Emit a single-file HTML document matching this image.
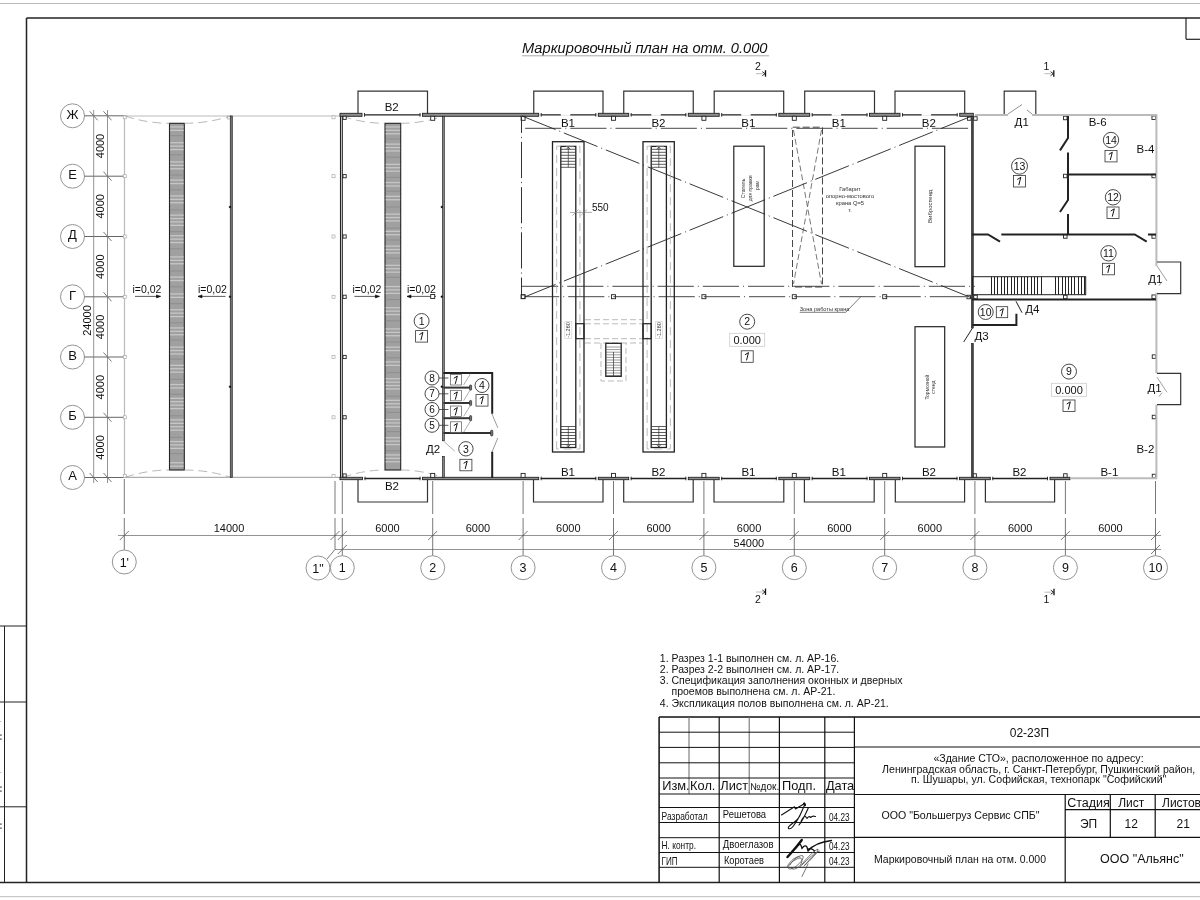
<!DOCTYPE html>
<html><head><meta charset="utf-8"><style>
html,body{margin:0;padding:0;background:#fff;overflow:hidden;}
svg{display:block;font-family:"Liberation Sans",sans-serif;will-change:transform;}
</style></head><body>
<svg width="1200" height="900" viewBox="0 0 1200 900">
<rect width="1200" height="900" fill="#fff"/>
<line x1="0" y1="3.5" x2="1200" y2="3.5" stroke="#bbb" stroke-width="1" />
<line x1="26.5" y1="18" x2="1200" y2="18" stroke="#222" stroke-width="1.5" />
<line x1="26.5" y1="18" x2="26.5" y2="882.5" stroke="#222" stroke-width="1.5" />
<line x1="0" y1="882.5" x2="1200" y2="882.5" stroke="#222" stroke-width="1.5" />
<line x1="0" y1="896.7" x2="1200" y2="896.7" stroke="#bbb" stroke-width="1" />
<line x1="1186" y1="18" x2="1186" y2="39.3" stroke="#222" stroke-width="1.2" />
<line x1="1186" y1="39.3" x2="1200" y2="39.3" stroke="#222" stroke-width="1.2" />
<line x1="4.5" y1="626" x2="4.5" y2="882.5" stroke="#222" stroke-width="1" />
<line x1="0" y1="626" x2="26.5" y2="626" stroke="#222" stroke-width="1" />
<line x1="0" y1="702" x2="26.5" y2="702" stroke="#222" stroke-width="1" />
<line x1="0" y1="806.8" x2="26.5" y2="806.8" stroke="#222" stroke-width="1" />
<rect x="0" y="734.5" width="1.8" height="1.2" fill="#555"/>
<rect x="0" y="738.5" width="1.8" height="1.2" fill="#555"/>
<rect x="0" y="786.5" width="1.8" height="1.2" fill="#555"/>
<rect x="0" y="790.5" width="1.8" height="1.2" fill="#555"/>
<rect x="0" y="823.5" width="1.8" height="1.2" fill="#555"/>
<rect x="0" y="827.5" width="1.8" height="1.2" fill="#555"/>
<rect x="0" y="721" width="1.2" height="1" fill="#bbb"/>
<rect x="0" y="772" width="1.2" height="1" fill="#bbb"/>
<text x="522" y="53" font-size="14.5" text-anchor="start" fill="#111" font-style="italic" textLength="245.5" lengthAdjust="spacingAndGlyphs">Маркировочный план на отм. 0.000</text>
<line x1="522" y1="55.8" x2="769" y2="55.8" stroke="#aaa" stroke-width="1" />
<text x="758" y="69.8" font-size="10.5" text-anchor="middle" fill="#111" >2</text>
<line x1="756" y1="73.7" x2="762.7" y2="73.7" stroke="#bbb" stroke-width="1" />
<path d="M762.3,71.7 L765,73.7 L762.3,75.7" stroke="#111" stroke-width="0.9" fill="none" />
<line x1="765.5" y1="70.2" x2="765.5" y2="76.7" stroke="#111" stroke-width="1.3" />
<text x="1046.3" y="69.8" font-size="10.5" text-anchor="middle" fill="#111" >1</text>
<line x1="1044.3" y1="73.7" x2="1051.0" y2="73.7" stroke="#bbb" stroke-width="1" />
<path d="M1050.6,71.7 L1053.3,73.7 L1050.6,75.7" stroke="#111" stroke-width="0.9" fill="none" />
<line x1="1053.8" y1="70.2" x2="1053.8" y2="76.7" stroke="#111" stroke-width="1.3" />
<text x="758" y="602.8" font-size="10.5" text-anchor="middle" fill="#111" >2</text>
<line x1="756" y1="592" x2="762.7" y2="592" stroke="#bbb" stroke-width="1" />
<path d="M762.3,590 L765,592 L762.3,594" stroke="#111" stroke-width="0.9" fill="none" />
<line x1="765.5" y1="588.5" x2="765.5" y2="595" stroke="#111" stroke-width="1.3" />
<text x="1046.5" y="602.8" font-size="10.5" text-anchor="middle" fill="#111" >1</text>
<line x1="1044.5" y1="592.2" x2="1051.2" y2="592.2" stroke="#bbb" stroke-width="1" />
<path d="M1050.8,590.2 L1053.5,592.2 L1050.8,594.2" stroke="#111" stroke-width="0.9" fill="none" />
<line x1="1054.0" y1="588.7" x2="1054.0" y2="595.2" stroke="#111" stroke-width="1.3" />
<circle cx="72.5" cy="115.8" r="12" stroke="#888" stroke-width="0.9" fill="none"/>
<text x="72.5" y="118.7" font-size="13" text-anchor="middle" fill="#111" >Ж</text>
<line x1="84.5" y1="115.8" x2="125" y2="115.8" stroke="#555" stroke-width="0.9" />
<line x1="103.5" y1="111.3" x2="111.5" y2="120.3" stroke="#555" stroke-width="0.8" />
<circle cx="72.5" cy="176.2" r="12" stroke="#888" stroke-width="0.9" fill="none"/>
<text x="72.5" y="179.1" font-size="13" text-anchor="middle" fill="#111" >Е</text>
<line x1="84.5" y1="176.2" x2="125" y2="176.2" stroke="#555" stroke-width="0.9" />
<line x1="103.5" y1="171.7" x2="111.5" y2="180.7" stroke="#555" stroke-width="0.8" />
<circle cx="72.5" cy="236.5" r="12" stroke="#888" stroke-width="0.9" fill="none"/>
<text x="72.5" y="239.4" font-size="13" text-anchor="middle" fill="#111" >Д</text>
<line x1="84.5" y1="236.5" x2="125" y2="236.5" stroke="#555" stroke-width="0.9" />
<line x1="103.5" y1="232.0" x2="111.5" y2="241.0" stroke="#555" stroke-width="0.8" />
<circle cx="72.5" cy="296.8" r="12" stroke="#888" stroke-width="0.9" fill="none"/>
<text x="72.5" y="299.7" font-size="13" text-anchor="middle" fill="#111" >Г</text>
<line x1="84.5" y1="296.8" x2="125" y2="296.8" stroke="#555" stroke-width="0.9" />
<line x1="103.5" y1="292.3" x2="111.5" y2="301.3" stroke="#555" stroke-width="0.8" />
<circle cx="72.5" cy="357.0" r="12" stroke="#888" stroke-width="0.9" fill="none"/>
<text x="72.5" y="359.9" font-size="13" text-anchor="middle" fill="#111" >В</text>
<line x1="84.5" y1="357.0" x2="125" y2="357.0" stroke="#555" stroke-width="0.9" />
<line x1="103.5" y1="352.5" x2="111.5" y2="361.5" stroke="#555" stroke-width="0.8" />
<circle cx="72.5" cy="417.3" r="12" stroke="#888" stroke-width="0.9" fill="none"/>
<text x="72.5" y="420.2" font-size="13" text-anchor="middle" fill="#111" >Б</text>
<line x1="84.5" y1="417.3" x2="125" y2="417.3" stroke="#555" stroke-width="0.9" />
<line x1="103.5" y1="412.8" x2="111.5" y2="421.8" stroke="#555" stroke-width="0.8" />
<circle cx="72.5" cy="477.5" r="12" stroke="#888" stroke-width="0.9" fill="none"/>
<text x="72.5" y="480.4" font-size="13" text-anchor="middle" fill="#111" >А</text>
<line x1="84.5" y1="477.5" x2="125" y2="477.5" stroke="#555" stroke-width="0.9" />
<line x1="103.5" y1="473.0" x2="111.5" y2="482.0" stroke="#555" stroke-width="0.8" />
<line x1="89.7" y1="111.3" x2="97.7" y2="120.3" stroke="#555" stroke-width="0.8" />
<line x1="89.7" y1="473.0" x2="97.7" y2="482.0" stroke="#555" stroke-width="0.8" />
<line x1="93.7" y1="110" x2="93.7" y2="483" stroke="#777" stroke-width="0.8" />
<line x1="107.5" y1="110" x2="107.5" y2="483" stroke="#777" stroke-width="0.8" />
<text x="0" y="0" font-size="11" text-anchor="middle" fill="#111" transform="translate(104.3,146.0) rotate(-90)">4000</text>
<text x="0" y="0" font-size="11" text-anchor="middle" fill="#111" transform="translate(104.3,206.35) rotate(-90)">4000</text>
<text x="0" y="0" font-size="11" text-anchor="middle" fill="#111" transform="translate(104.3,266.65) rotate(-90)">4000</text>
<text x="0" y="0" font-size="11" text-anchor="middle" fill="#111" transform="translate(104.3,326.9) rotate(-90)">4000</text>
<text x="0" y="0" font-size="11" text-anchor="middle" fill="#111" transform="translate(104.3,387.15) rotate(-90)">4000</text>
<text x="0" y="0" font-size="11" text-anchor="middle" fill="#111" transform="translate(104.3,447.4) rotate(-90)">4000</text>
<text x="0" y="0" font-size="11" text-anchor="middle" fill="#111" transform="translate(90.5,320.5) rotate(-90)">24000</text>
<line x1="118" y1="535.5" x2="1161" y2="535.5" stroke="#777" stroke-width="0.8" />
<line x1="335" y1="549.5" x2="1161" y2="549.5" stroke="#777" stroke-width="0.8" />
<line x1="119.8" y1="540" x2="128.8" y2="531" stroke="#555" stroke-width="0.8" />
<line x1="330.5" y1="540" x2="339.5" y2="531" stroke="#555" stroke-width="0.8" />
<line x1="337.8" y1="540" x2="346.8" y2="531" stroke="#555" stroke-width="0.8" />
<line x1="428.2" y1="540" x2="437.2" y2="531" stroke="#555" stroke-width="0.8" />
<line x1="518.6" y1="540" x2="527.6" y2="531" stroke="#555" stroke-width="0.8" />
<line x1="609.0" y1="540" x2="618.0" y2="531" stroke="#555" stroke-width="0.8" />
<line x1="699.4" y1="540" x2="708.4" y2="531" stroke="#555" stroke-width="0.8" />
<line x1="789.8" y1="540" x2="798.8" y2="531" stroke="#555" stroke-width="0.8" />
<line x1="880.2" y1="540" x2="889.2" y2="531" stroke="#555" stroke-width="0.8" />
<line x1="970.4" y1="540" x2="979.4" y2="531" stroke="#555" stroke-width="0.8" />
<line x1="1060.9" y1="540" x2="1069.9" y2="531" stroke="#555" stroke-width="0.8" />
<line x1="1151.0" y1="540" x2="1160.0" y2="531" stroke="#555" stroke-width="0.8" />
<line x1="337.8" y1="554" x2="346.8" y2="545" stroke="#555" stroke-width="0.8" />
<line x1="1151.0" y1="554" x2="1160.0" y2="545" stroke="#555" stroke-width="0.8" />
<text x="229" y="532" font-size="11" text-anchor="middle" fill="#111" >14000</text>
<text x="387.5" y="532" font-size="11" text-anchor="middle" fill="#111" >6000</text>
<text x="477.9" y="532" font-size="11" text-anchor="middle" fill="#111" >6000</text>
<text x="568.3" y="532" font-size="11" text-anchor="middle" fill="#111" >6000</text>
<text x="658.7" y="532" font-size="11" text-anchor="middle" fill="#111" >6000</text>
<text x="749.0999999999999" y="532" font-size="11" text-anchor="middle" fill="#111" >6000</text>
<text x="839.5" y="532" font-size="11" text-anchor="middle" fill="#111" >6000</text>
<text x="929.8" y="532" font-size="11" text-anchor="middle" fill="#111" >6000</text>
<text x="1020.1500000000001" y="532" font-size="11" text-anchor="middle" fill="#111" >6000</text>
<text x="1110.45" y="532" font-size="11" text-anchor="middle" fill="#111" >6000</text>
<text x="748.9" y="546.5" font-size="11" text-anchor="middle" fill="#111" >54000</text>
<path d="M342.3,481 V514 M342.3,518 V555.5" stroke="#555" stroke-width="0.8" fill="none" />
<circle cx="342.3" cy="567.7" r="12" stroke="#888" stroke-width="0.9" fill="none"/>
<path d="M432.7,481 V514 M432.7,518 V555.5" stroke="#555" stroke-width="0.8" fill="none" />
<circle cx="432.7" cy="567.7" r="12" stroke="#888" stroke-width="0.9" fill="none"/>
<path d="M523.1,481 V514 M523.1,518 V555.5" stroke="#555" stroke-width="0.8" fill="none" />
<circle cx="523.1" cy="567.7" r="12" stroke="#888" stroke-width="0.9" fill="none"/>
<path d="M613.5,481 V514 M613.5,518 V555.5" stroke="#555" stroke-width="0.8" fill="none" />
<circle cx="613.5" cy="567.7" r="12" stroke="#888" stroke-width="0.9" fill="none"/>
<path d="M703.9,481 V514 M703.9,518 V555.5" stroke="#555" stroke-width="0.8" fill="none" />
<circle cx="703.9" cy="567.7" r="12" stroke="#888" stroke-width="0.9" fill="none"/>
<path d="M794.3,481 V514 M794.3,518 V555.5" stroke="#555" stroke-width="0.8" fill="none" />
<circle cx="794.3" cy="567.7" r="12" stroke="#888" stroke-width="0.9" fill="none"/>
<path d="M884.7,481 V514 M884.7,518 V555.5" stroke="#555" stroke-width="0.8" fill="none" />
<circle cx="884.7" cy="567.7" r="12" stroke="#888" stroke-width="0.9" fill="none"/>
<path d="M974.9,481 V514 M974.9,518 V555.5" stroke="#555" stroke-width="0.8" fill="none" />
<circle cx="974.9" cy="567.7" r="12" stroke="#888" stroke-width="0.9" fill="none"/>
<path d="M1065.4,481 V514 M1065.4,518 V555.5" stroke="#555" stroke-width="0.8" fill="none" />
<circle cx="1065.4" cy="567.7" r="12" stroke="#888" stroke-width="0.9" fill="none"/>
<path d="M1155.5,481 V514 M1155.5,518 V555.5" stroke="#555" stroke-width="0.8" fill="none" />
<circle cx="1155.5" cy="567.7" r="12" stroke="#888" stroke-width="0.9" fill="none"/>
<text x="342.3" y="572.2" font-size="12.5" text-anchor="middle" fill="#111" >1</text>
<text x="432.7" y="572.2" font-size="12.5" text-anchor="middle" fill="#111" >2</text>
<text x="523.1" y="572.2" font-size="12.5" text-anchor="middle" fill="#111" >3</text>
<text x="613.5" y="572.2" font-size="12.5" text-anchor="middle" fill="#111" >4</text>
<text x="703.9" y="572.2" font-size="12.5" text-anchor="middle" fill="#111" >5</text>
<text x="794.3" y="572.2" font-size="12.5" text-anchor="middle" fill="#111" >6</text>
<text x="884.7" y="572.2" font-size="12.5" text-anchor="middle" fill="#111" >7</text>
<text x="974.9" y="572.2" font-size="12.5" text-anchor="middle" fill="#111" >8</text>
<text x="1065.4" y="572.2" font-size="12.5" text-anchor="middle" fill="#111" >9</text>
<text x="1155.5" y="572.2" font-size="12.5" text-anchor="middle" fill="#111" >10</text>
<path d="M124.3,479 V514 M124.3,518 V550" stroke="#555" stroke-width="0.8" fill="none" />
<circle cx="124.3" cy="562" r="12" stroke="#888" stroke-width="0.9" fill="none"/>
<text x="124.3" y="566.5" font-size="12.5" text-anchor="middle" fill="#111" >1'</text>
<path d="M335,481 V514 M335,518 V549.5 L327,559" stroke="#555" stroke-width="0.8" fill="none" />
<circle cx="318" cy="568" r="12" stroke="#888" stroke-width="0.9" fill="none"/>
<text x="318" y="572.5" font-size="12.5" text-anchor="middle" fill="#111" >1"</text>
<line x1="125" y1="116" x2="340" y2="116" stroke="#bbb" stroke-width="1.2" />
<line x1="125" y1="477.3" x2="340" y2="477.3" stroke="#999" stroke-width="1" />
<line x1="124.5" y1="116" x2="124.5" y2="477.3" stroke="#bbb" stroke-width="1.2" />
<rect x="123.3" y="115.8" width="3" height="3" stroke="#aaa" stroke-width="0.7" fill="#fff" />
<rect x="332" y="115.8" width="3" height="3" stroke="#aaa" stroke-width="0.7" fill="#fff" />
<rect x="123.3" y="174.7" width="3" height="3" stroke="#aaa" stroke-width="0.7" fill="#fff" />
<rect x="332" y="174.7" width="3" height="3" stroke="#aaa" stroke-width="0.7" fill="#fff" />
<rect x="123.3" y="235.0" width="3" height="3" stroke="#aaa" stroke-width="0.7" fill="#fff" />
<rect x="332" y="235.0" width="3" height="3" stroke="#aaa" stroke-width="0.7" fill="#fff" />
<rect x="123.3" y="295.3" width="3" height="3" stroke="#aaa" stroke-width="0.7" fill="#fff" />
<rect x="332" y="295.3" width="3" height="3" stroke="#aaa" stroke-width="0.7" fill="#fff" />
<rect x="123.3" y="355.5" width="3" height="3" stroke="#aaa" stroke-width="0.7" fill="#fff" />
<rect x="332" y="355.5" width="3" height="3" stroke="#aaa" stroke-width="0.7" fill="#fff" />
<rect x="123.3" y="415.8" width="3" height="3" stroke="#aaa" stroke-width="0.7" fill="#fff" />
<rect x="332" y="415.8" width="3" height="3" stroke="#aaa" stroke-width="0.7" fill="#fff" />
<rect x="123.3" y="474.5" width="3" height="3" stroke="#aaa" stroke-width="0.7" fill="#fff" />
<rect x="332" y="474.5" width="3" height="3" stroke="#aaa" stroke-width="0.7" fill="#fff" />
<rect x="227.3" y="116" width="3" height="3" stroke="#aaa" stroke-width="0.7" fill="#fff" />
<rect x="169.5" y="123.3" width="14.800000000000011" height="346.7" stroke="#222" stroke-width="1.1" fill="#a0a0a0" />
<rect x="170.1" y="126.3" width="13.600000000000012" height="1.3" fill="#c6c6c6"/>
<rect x="170.1" y="129.7" width="13.600000000000012" height="1.3" fill="#c6c6c6"/>
<rect x="170.1" y="135.1" width="13.600000000000012" height="1" fill="#8e8e8e"/>
<rect x="170.1" y="142.1" width="13.600000000000012" height="1.3" fill="#c6c6c6"/>
<rect x="170.1" y="145.5" width="13.600000000000012" height="1.3" fill="#c6c6c6"/>
<rect x="170.1" y="148.9" width="13.600000000000012" height="1.3" fill="#c6c6c6"/>
<rect x="170.1" y="154.3" width="13.600000000000012" height="1" fill="#8e8e8e"/>
<rect x="170.1" y="161.3" width="13.600000000000012" height="1.3" fill="#c6c6c6"/>
<rect x="170.1" y="164.7" width="13.600000000000012" height="1.3" fill="#c6c6c6"/>
<rect x="170.1" y="168.1" width="13.600000000000012" height="1.3" fill="#c6c6c6"/>
<rect x="170.1" y="174.5" width="13.600000000000012" height="1" fill="#8e8e8e"/>
<rect x="170.1" y="179.5" width="13.600000000000012" height="1.3" fill="#c6c6c6"/>
<rect x="170.1" y="182.9" width="13.600000000000012" height="1.3" fill="#c6c6c6"/>
<rect x="170.1" y="189.3" width="13.600000000000012" height="1" fill="#8e8e8e"/>
<rect x="170.1" y="195.3" width="13.600000000000012" height="1.3" fill="#c6c6c6"/>
<rect x="170.1" y="198.7" width="13.600000000000012" height="1.3" fill="#c6c6c6"/>
<rect x="170.1" y="202.1" width="13.600000000000012" height="1.3" fill="#c6c6c6"/>
<rect x="170.1" y="209.5" width="13.600000000000012" height="1" fill="#8e8e8e"/>
<rect x="170.1" y="214.5" width="13.600000000000012" height="1.3" fill="#c6c6c6"/>
<rect x="170.1" y="217.9" width="13.600000000000012" height="1.3" fill="#c6c6c6"/>
<rect x="170.1" y="221.3" width="13.600000000000012" height="1.3" fill="#c6c6c6"/>
<rect x="170.1" y="224.7" width="13.600000000000012" height="1.3" fill="#c6c6c6"/>
<rect x="170.1" y="231.1" width="13.600000000000012" height="1" fill="#8e8e8e"/>
<rect x="170.1" y="235.1" width="13.600000000000012" height="1.3" fill="#c6c6c6"/>
<rect x="170.1" y="238.5" width="13.600000000000012" height="1.3" fill="#c6c6c6"/>
<rect x="170.1" y="241.9" width="13.600000000000012" height="1.3" fill="#c6c6c6"/>
<rect x="170.1" y="248.3" width="13.600000000000012" height="1" fill="#8e8e8e"/>
<rect x="170.1" y="256.3" width="13.600000000000012" height="1.3" fill="#c6c6c6"/>
<rect x="170.1" y="259.7" width="13.600000000000012" height="1.3" fill="#c6c6c6"/>
<rect x="170.1" y="263.1" width="13.600000000000012" height="1.3" fill="#c6c6c6"/>
<rect x="170.1" y="270.5" width="13.600000000000012" height="1" fill="#8e8e8e"/>
<rect x="170.1" y="276.5" width="13.600000000000012" height="1.3" fill="#c6c6c6"/>
<rect x="170.1" y="279.9" width="13.600000000000012" height="1.3" fill="#c6c6c6"/>
<rect x="170.1" y="286.3" width="13.600000000000012" height="1" fill="#8e8e8e"/>
<rect x="170.1" y="293.3" width="13.600000000000012" height="1.3" fill="#c6c6c6"/>
<rect x="170.1" y="296.7" width="13.600000000000012" height="1.3" fill="#c6c6c6"/>
<rect x="170.1" y="303.1" width="13.600000000000012" height="1" fill="#8e8e8e"/>
<rect x="170.1" y="309.1" width="13.600000000000012" height="1.3" fill="#c6c6c6"/>
<rect x="170.1" y="312.5" width="13.600000000000012" height="1.3" fill="#c6c6c6"/>
<rect x="170.1" y="315.9" width="13.600000000000012" height="1.3" fill="#c6c6c6"/>
<rect x="170.1" y="322.3" width="13.600000000000012" height="1" fill="#8e8e8e"/>
<rect x="170.1" y="327.3" width="13.600000000000012" height="1.3" fill="#c6c6c6"/>
<rect x="170.1" y="330.7" width="13.600000000000012" height="1.3" fill="#c6c6c6"/>
<rect x="170.1" y="334.1" width="13.600000000000012" height="1.3" fill="#c6c6c6"/>
<rect x="170.1" y="339.5" width="13.600000000000012" height="1" fill="#8e8e8e"/>
<rect x="170.1" y="346.5" width="13.600000000000012" height="1.3" fill="#c6c6c6"/>
<rect x="170.1" y="349.9" width="13.600000000000012" height="1.3" fill="#c6c6c6"/>
<rect x="170.1" y="353.3" width="13.600000000000012" height="1.3" fill="#c6c6c6"/>
<rect x="170.1" y="358.7" width="13.600000000000012" height="1" fill="#8e8e8e"/>
<rect x="170.1" y="364.7" width="13.600000000000012" height="1.3" fill="#c6c6c6"/>
<rect x="170.1" y="368.1" width="13.600000000000012" height="1.3" fill="#c6c6c6"/>
<rect x="170.1" y="371.5" width="13.600000000000012" height="1.3" fill="#c6c6c6"/>
<rect x="170.1" y="378.9" width="13.600000000000012" height="1" fill="#8e8e8e"/>
<rect x="170.1" y="383.9" width="13.600000000000012" height="1.3" fill="#c6c6c6"/>
<rect x="170.1" y="387.3" width="13.600000000000012" height="1.3" fill="#c6c6c6"/>
<rect x="170.1" y="393.7" width="13.600000000000012" height="1" fill="#8e8e8e"/>
<rect x="170.1" y="397.7" width="13.600000000000012" height="1.3" fill="#c6c6c6"/>
<rect x="170.1" y="401.1" width="13.600000000000012" height="1.3" fill="#c6c6c6"/>
<rect x="170.1" y="404.5" width="13.600000000000012" height="1.3" fill="#c6c6c6"/>
<rect x="170.1" y="407.9" width="13.600000000000012" height="1.3" fill="#c6c6c6"/>
<rect x="170.1" y="415.3" width="13.600000000000012" height="1" fill="#8e8e8e"/>
<rect x="170.1" y="419.3" width="13.600000000000012" height="1.3" fill="#c6c6c6"/>
<rect x="170.1" y="422.7" width="13.600000000000012" height="1.3" fill="#c6c6c6"/>
<rect x="170.1" y="426.1" width="13.600000000000012" height="1.3" fill="#c6c6c6"/>
<rect x="170.1" y="429.5" width="13.600000000000012" height="1.3" fill="#c6c6c6"/>
<rect x="170.1" y="436.9" width="13.600000000000012" height="1" fill="#8e8e8e"/>
<rect x="170.1" y="440.9" width="13.600000000000012" height="1.3" fill="#c6c6c6"/>
<rect x="170.1" y="444.3" width="13.600000000000012" height="1.3" fill="#c6c6c6"/>
<rect x="170.1" y="447.7" width="13.600000000000012" height="1.3" fill="#c6c6c6"/>
<rect x="170.1" y="453.1" width="13.600000000000012" height="1" fill="#8e8e8e"/>
<rect x="170.1" y="462.1" width="13.600000000000012" height="1.3" fill="#c6c6c6"/>
<rect x="170.1" y="465.5" width="13.600000000000012" height="1.3" fill="#c6c6c6"/>
<rect x="385" y="123.3" width="15.699999999999989" height="346.7" stroke="#222" stroke-width="1.1" fill="#a0a0a0" />
<rect x="385.6" y="126.3" width="14.49999999999999" height="1.3" fill="#c6c6c6"/>
<rect x="385.6" y="129.7" width="14.49999999999999" height="1.3" fill="#c6c6c6"/>
<rect x="385.6" y="133.1" width="14.49999999999999" height="1.3" fill="#c6c6c6"/>
<rect x="385.6" y="138.5" width="14.49999999999999" height="1" fill="#8e8e8e"/>
<rect x="385.6" y="143.5" width="14.49999999999999" height="1.3" fill="#c6c6c6"/>
<rect x="385.6" y="146.9" width="14.49999999999999" height="1.3" fill="#c6c6c6"/>
<rect x="385.6" y="150.3" width="14.49999999999999" height="1.3" fill="#c6c6c6"/>
<rect x="385.6" y="156.7" width="14.49999999999999" height="1" fill="#8e8e8e"/>
<rect x="385.6" y="163.7" width="14.49999999999999" height="1.3" fill="#c6c6c6"/>
<rect x="385.6" y="167.1" width="14.49999999999999" height="1.3" fill="#c6c6c6"/>
<rect x="385.6" y="170.5" width="14.49999999999999" height="1.3" fill="#c6c6c6"/>
<rect x="385.6" y="176.9" width="14.49999999999999" height="1" fill="#8e8e8e"/>
<rect x="385.6" y="181.9" width="14.49999999999999" height="1.3" fill="#c6c6c6"/>
<rect x="385.6" y="185.3" width="14.49999999999999" height="1.3" fill="#c6c6c6"/>
<rect x="385.6" y="190.7" width="14.49999999999999" height="1" fill="#8e8e8e"/>
<rect x="385.6" y="195.7" width="14.49999999999999" height="1.3" fill="#c6c6c6"/>
<rect x="385.6" y="199.1" width="14.49999999999999" height="1.3" fill="#c6c6c6"/>
<rect x="385.6" y="206.5" width="14.49999999999999" height="1" fill="#8e8e8e"/>
<rect x="385.6" y="213.5" width="14.49999999999999" height="1.3" fill="#c6c6c6"/>
<rect x="385.6" y="216.9" width="14.49999999999999" height="1.3" fill="#c6c6c6"/>
<rect x="385.6" y="220.3" width="14.49999999999999" height="1.3" fill="#c6c6c6"/>
<rect x="385.6" y="227.7" width="14.49999999999999" height="1" fill="#8e8e8e"/>
<rect x="385.6" y="230.7" width="14.49999999999999" height="1.3" fill="#c6c6c6"/>
<rect x="385.6" y="234.1" width="14.49999999999999" height="1.3" fill="#c6c6c6"/>
<rect x="385.6" y="239.5" width="14.49999999999999" height="1" fill="#8e8e8e"/>
<rect x="385.6" y="245.5" width="14.49999999999999" height="1.3" fill="#c6c6c6"/>
<rect x="385.6" y="248.9" width="14.49999999999999" height="1.3" fill="#c6c6c6"/>
<rect x="385.6" y="252.3" width="14.49999999999999" height="1.3" fill="#c6c6c6"/>
<rect x="385.6" y="257.7" width="14.49999999999999" height="1" fill="#8e8e8e"/>
<rect x="385.6" y="264.7" width="14.49999999999999" height="1.3" fill="#c6c6c6"/>
<rect x="385.6" y="268.1" width="14.49999999999999" height="1.3" fill="#c6c6c6"/>
<rect x="385.6" y="271.5" width="14.49999999999999" height="1.3" fill="#c6c6c6"/>
<rect x="385.6" y="276.9" width="14.49999999999999" height="1" fill="#8e8e8e"/>
<rect x="385.6" y="285.9" width="14.49999999999999" height="1.3" fill="#c6c6c6"/>
<rect x="385.6" y="289.3" width="14.49999999999999" height="1.3" fill="#c6c6c6"/>
<rect x="385.6" y="292.7" width="14.49999999999999" height="1.3" fill="#c6c6c6"/>
<rect x="385.6" y="299.1" width="14.49999999999999" height="1" fill="#8e8e8e"/>
<rect x="385.6" y="307.1" width="14.49999999999999" height="1.3" fill="#c6c6c6"/>
<rect x="385.6" y="310.5" width="14.49999999999999" height="1.3" fill="#c6c6c6"/>
<rect x="385.6" y="313.9" width="14.49999999999999" height="1.3" fill="#c6c6c6"/>
<rect x="385.6" y="320.3" width="14.49999999999999" height="1" fill="#8e8e8e"/>
<rect x="385.6" y="328.3" width="14.49999999999999" height="1.3" fill="#c6c6c6"/>
<rect x="385.6" y="331.7" width="14.49999999999999" height="1.3" fill="#c6c6c6"/>
<rect x="385.6" y="335.1" width="14.49999999999999" height="1.3" fill="#c6c6c6"/>
<rect x="385.6" y="341.5" width="14.49999999999999" height="1" fill="#8e8e8e"/>
<rect x="385.6" y="346.5" width="14.49999999999999" height="1.3" fill="#c6c6c6"/>
<rect x="385.6" y="349.9" width="14.49999999999999" height="1.3" fill="#c6c6c6"/>
<rect x="385.6" y="357.3" width="14.49999999999999" height="1" fill="#8e8e8e"/>
<rect x="385.6" y="361.3" width="14.49999999999999" height="1.3" fill="#c6c6c6"/>
<rect x="385.6" y="364.7" width="14.49999999999999" height="1.3" fill="#c6c6c6"/>
<rect x="385.6" y="372.1" width="14.49999999999999" height="1" fill="#8e8e8e"/>
<rect x="385.6" y="378.1" width="14.49999999999999" height="1.3" fill="#c6c6c6"/>
<rect x="385.6" y="381.5" width="14.49999999999999" height="1.3" fill="#c6c6c6"/>
<rect x="385.6" y="384.9" width="14.49999999999999" height="1.3" fill="#c6c6c6"/>
<rect x="385.6" y="388.3" width="14.49999999999999" height="1.3" fill="#c6c6c6"/>
<rect x="385.6" y="395.7" width="14.49999999999999" height="1" fill="#8e8e8e"/>
<rect x="385.6" y="399.7" width="14.49999999999999" height="1.3" fill="#c6c6c6"/>
<rect x="385.6" y="403.1" width="14.49999999999999" height="1.3" fill="#c6c6c6"/>
<rect x="385.6" y="406.5" width="14.49999999999999" height="1.3" fill="#c6c6c6"/>
<rect x="385.6" y="411.9" width="14.49999999999999" height="1" fill="#8e8e8e"/>
<rect x="385.6" y="418.9" width="14.49999999999999" height="1.3" fill="#c6c6c6"/>
<rect x="385.6" y="422.3" width="14.49999999999999" height="1.3" fill="#c6c6c6"/>
<rect x="385.6" y="425.7" width="14.49999999999999" height="1.3" fill="#c6c6c6"/>
<rect x="385.6" y="431.1" width="14.49999999999999" height="1" fill="#8e8e8e"/>
<rect x="385.6" y="437.1" width="14.49999999999999" height="1.3" fill="#c6c6c6"/>
<rect x="385.6" y="440.5" width="14.49999999999999" height="1.3" fill="#c6c6c6"/>
<rect x="385.6" y="443.9" width="14.49999999999999" height="1.3" fill="#c6c6c6"/>
<rect x="385.6" y="450.3" width="14.49999999999999" height="1" fill="#8e8e8e"/>
<rect x="385.6" y="454.3" width="14.49999999999999" height="1.3" fill="#c6c6c6"/>
<rect x="385.6" y="457.7" width="14.49999999999999" height="1.3" fill="#c6c6c6"/>
<rect x="385.6" y="461.1" width="14.49999999999999" height="1.3" fill="#c6c6c6"/>
<path d="M125,116 Q147.25,123.3 169.5,123.3 M184.3,123.3 Q207.65,123.3 231,116" stroke="#999" stroke-width="0.7" fill="none" stroke-dasharray="9 5"/>
<path d="M125,477.3 Q147.25,470 169.5,470 M184.3,470 Q207.65,470 231,477.3" stroke="#999" stroke-width="0.7" fill="none" stroke-dasharray="9 5"/>
<path d="M342.5,116.3 Q363.75,123.3 385,123.3 M400.7,123.3 Q421.85,123.3 443,116.3" stroke="#999" stroke-width="0.7" fill="none" stroke-dasharray="9 5"/>
<path d="M342.5,477.5 Q363.75,470 385,470 M400.7,470 Q421.85,470 443,477.5" stroke="#999" stroke-width="0.7" fill="none" stroke-dasharray="9 5"/>
<rect x="230.3" y="116" width="2" height="361.3" stroke="#333" stroke-width="0.8" fill="#777" />
<circle cx="230" cy="207" r="0.9" stroke="#111" stroke-width="0.5" fill="#111"/>
<circle cx="230" cy="296.7" r="0.9" stroke="#111" stroke-width="0.5" fill="#111"/>
<circle cx="230" cy="386.7" r="0.9" stroke="#111" stroke-width="0.5" fill="#111"/>
<text x="132.5" y="293.2" font-size="10.5" text-anchor="start" fill="#111" >i=0,02</text>
<line x1="135" y1="296.4" x2="160.5" y2="296.4" stroke="#333" stroke-width="0.8" />
<path d="M156.5,294.9 L160.5,296.4 L156.5,297.9Z" stroke="#111" stroke-width="0.6" fill="#111" />
<text x="198" y="293.2" font-size="10.5" text-anchor="start" fill="#111" >i=0,02</text>
<line x1="198" y1="296.4" x2="225.5" y2="296.4" stroke="#333" stroke-width="0.8" />
<path d="M202,294.9 L198,296.4 L202,297.9Z" stroke="#111" stroke-width="0.6" fill="#111" />
<text x="352.4" y="293.2" font-size="10.5" text-anchor="start" fill="#111" >i=0,02</text>
<line x1="354.4" y1="296.4" x2="379.4" y2="296.4" stroke="#333" stroke-width="0.8" />
<path d="M375.4,294.9 L379.4,296.4 L375.4,297.9Z" stroke="#111" stroke-width="0.6" fill="#111" />
<text x="407" y="293.2" font-size="10.5" text-anchor="start" fill="#111" >i=0,02</text>
<line x1="407" y1="296.4" x2="436" y2="296.4" stroke="#333" stroke-width="0.8" />
<path d="M411,294.9 L407,296.4 L411,297.9Z" stroke="#111" stroke-width="0.6" fill="#111" />
<line x1="340.5" y1="113.5" x2="340.5" y2="479.7" stroke="#222" stroke-width="1.1" />
<line x1="342.3" y1="116.3" x2="342.3" y2="477.5" stroke="#222" stroke-width="1.1" />
<rect x="340" y="113.3" width="22" height="3.0" stroke="#222" stroke-width="0.9" fill="#8c8c8c" />
<rect x="422.5" y="113.3" width="116.20000000000005" height="3.0" stroke="#222" stroke-width="0.9" fill="#8c8c8c" />
<rect x="598.3" y="113.3" width="30.40000000000009" height="3.0" stroke="#222" stroke-width="0.9" fill="#8c8c8c" />
<rect x="688.3" y="113.3" width="30.90000000000009" height="3.0" stroke="#222" stroke-width="0.9" fill="#8c8c8c" />
<rect x="778.8" y="113.3" width="30.90000000000009" height="3.0" stroke="#222" stroke-width="0.9" fill="#8c8c8c" />
<rect x="869.5" y="113.3" width="30.5" height="3.0" stroke="#222" stroke-width="0.9" fill="#8c8c8c" />
<rect x="959.7" y="113.3" width="13.599999999999909" height="3.0" stroke="#222" stroke-width="0.9" fill="#8c8c8c" />
<line x1="364" y1="114.8" x2="420.5" y2="114.8" stroke="#222" stroke-width="1.3" />
<line x1="364.5" y1="113.0" x2="364.5" y2="116.6" stroke="#222" stroke-width="0.9" />
<line x1="420.0" y1="113.0" x2="420.0" y2="116.6" stroke="#222" stroke-width="0.9" />
<line x1="540.7" y1="114.8" x2="596.3" y2="114.8" stroke="#222" stroke-width="1.3" />
<line x1="541.2" y1="113.0" x2="541.2" y2="116.6" stroke="#222" stroke-width="0.9" />
<line x1="595.8" y1="113.0" x2="595.8" y2="116.6" stroke="#222" stroke-width="0.9" />
<line x1="630.7" y1="114.8" x2="686.3" y2="114.8" stroke="#222" stroke-width="1.3" />
<line x1="631.2" y1="113.0" x2="631.2" y2="116.6" stroke="#222" stroke-width="0.9" />
<line x1="685.8" y1="113.0" x2="685.8" y2="116.6" stroke="#222" stroke-width="0.9" />
<line x1="721.2" y1="114.8" x2="776.8" y2="114.8" stroke="#222" stroke-width="1.3" />
<line x1="721.7" y1="113.0" x2="721.7" y2="116.6" stroke="#222" stroke-width="0.9" />
<line x1="776.3" y1="113.0" x2="776.3" y2="116.6" stroke="#222" stroke-width="0.9" />
<line x1="811.7" y1="114.8" x2="867.5" y2="114.8" stroke="#222" stroke-width="1.3" />
<line x1="812.2" y1="113.0" x2="812.2" y2="116.6" stroke="#222" stroke-width="0.9" />
<line x1="867.0" y1="113.0" x2="867.0" y2="116.6" stroke="#222" stroke-width="0.9" />
<line x1="902" y1="114.8" x2="957.7" y2="114.8" stroke="#222" stroke-width="1.3" />
<line x1="902.5" y1="113.0" x2="902.5" y2="116.6" stroke="#222" stroke-width="0.9" />
<line x1="957.2" y1="113.0" x2="957.2" y2="116.6" stroke="#222" stroke-width="0.9" />
<rect x="340" y="477.3" width="22.5" height="2.3999999999999773" stroke="#222" stroke-width="0.9" fill="#8c8c8c" />
<rect x="422.5" y="477.3" width="116.20000000000005" height="2.3999999999999773" stroke="#222" stroke-width="0.9" fill="#8c8c8c" />
<rect x="598.3" y="477.3" width="30.40000000000009" height="2.3999999999999773" stroke="#222" stroke-width="0.9" fill="#8c8c8c" />
<rect x="688.3" y="477.3" width="30.90000000000009" height="2.3999999999999773" stroke="#222" stroke-width="0.9" fill="#8c8c8c" />
<rect x="778.8" y="477.3" width="30.90000000000009" height="2.3999999999999773" stroke="#222" stroke-width="0.9" fill="#8c8c8c" />
<rect x="869.5" y="477.3" width="30.5" height="2.3999999999999773" stroke="#222" stroke-width="0.9" fill="#8c8c8c" />
<rect x="959.5" y="477.3" width="30.799999999999955" height="2.3999999999999773" stroke="#222" stroke-width="0.9" fill="#8c8c8c" />
<rect x="1050" y="477.3" width="20" height="2.3999999999999773" stroke="#222" stroke-width="0.9" fill="#8c8c8c" />
<line x1="364.5" y1="478.5" x2="420.5" y2="478.5" stroke="#222" stroke-width="1.3" />
<line x1="365.0" y1="476.7" x2="365.0" y2="480.3" stroke="#222" stroke-width="0.9" />
<line x1="420.0" y1="476.7" x2="420.0" y2="480.3" stroke="#222" stroke-width="0.9" />
<line x1="540.7" y1="478.5" x2="596.3" y2="478.5" stroke="#222" stroke-width="1.3" />
<line x1="541.2" y1="476.7" x2="541.2" y2="480.3" stroke="#222" stroke-width="0.9" />
<line x1="595.8" y1="476.7" x2="595.8" y2="480.3" stroke="#222" stroke-width="0.9" />
<line x1="630.7" y1="478.5" x2="686.3" y2="478.5" stroke="#222" stroke-width="1.3" />
<line x1="631.2" y1="476.7" x2="631.2" y2="480.3" stroke="#222" stroke-width="0.9" />
<line x1="685.8" y1="476.7" x2="685.8" y2="480.3" stroke="#222" stroke-width="0.9" />
<line x1="721.2" y1="478.5" x2="776.8" y2="478.5" stroke="#222" stroke-width="1.3" />
<line x1="721.7" y1="476.7" x2="721.7" y2="480.3" stroke="#222" stroke-width="0.9" />
<line x1="776.3" y1="476.7" x2="776.3" y2="480.3" stroke="#222" stroke-width="0.9" />
<line x1="811.7" y1="478.5" x2="867.5" y2="478.5" stroke="#222" stroke-width="1.3" />
<line x1="812.2" y1="476.7" x2="812.2" y2="480.3" stroke="#222" stroke-width="0.9" />
<line x1="867.0" y1="476.7" x2="867.0" y2="480.3" stroke="#222" stroke-width="0.9" />
<line x1="902" y1="478.5" x2="957.5" y2="478.5" stroke="#222" stroke-width="1.3" />
<line x1="902.5" y1="476.7" x2="902.5" y2="480.3" stroke="#222" stroke-width="0.9" />
<line x1="957.0" y1="476.7" x2="957.0" y2="480.3" stroke="#222" stroke-width="0.9" />
<line x1="992.3" y1="478.5" x2="1048" y2="478.5" stroke="#222" stroke-width="1.3" />
<line x1="992.8" y1="476.7" x2="992.8" y2="480.3" stroke="#222" stroke-width="0.9" />
<line x1="1047.5" y1="476.7" x2="1047.5" y2="480.3" stroke="#222" stroke-width="0.9" />
<path d="M358,113.3 V91.2 H427.5 V113.3" stroke="#333" stroke-width="1.2" fill="none" />
<path d="M533.75,113.3 V91.2 H603 V113.3" stroke="#333" stroke-width="1.2" fill="none" />
<path d="M623.75,113.3 V91.2 H693.25 V113.3" stroke="#333" stroke-width="1.2" fill="none" />
<path d="M714.2,113.3 V91.2 H783.7 V113.3" stroke="#333" stroke-width="1.2" fill="none" />
<path d="M804.7,113.3 V91.2 H874.5 V113.3" stroke="#333" stroke-width="1.2" fill="none" />
<path d="M895,113.3 V91.2 H964.7 V113.3" stroke="#333" stroke-width="1.2" fill="none" />
<path d="M358,479.7 V502 H427.5 V479.7" stroke="#333" stroke-width="1.2" fill="none" />
<path d="M533.5,479.7 V502 H603 V479.7" stroke="#333" stroke-width="1.2" fill="none" />
<path d="M623.7,479.7 V502 H693.2 V479.7" stroke="#333" stroke-width="1.2" fill="none" />
<path d="M714,479.7 V502 H783.8 V479.7" stroke="#333" stroke-width="1.2" fill="none" />
<path d="M804.4,479.7 V502 H874.2 V479.7" stroke="#333" stroke-width="1.2" fill="none" />
<path d="M895.3,479.7 V502 H964.6 V479.7" stroke="#333" stroke-width="1.2" fill="none" />
<path d="M985.4,479.7 V502 H1054.6 V479.7" stroke="#333" stroke-width="1.2" fill="none" />
<text x="391.7" y="110.8" font-size="11.5" text-anchor="middle" fill="#111" >B2</text>
<rect x="560.8" y="113.9" width="9.5" height="1.9" fill="#fff"/>
<text x="568" y="126.6" font-size="11.5" text-anchor="middle" fill="#111" >B1</text>
<rect x="651.3" y="113.9" width="9.5" height="1.9" fill="#fff"/>
<text x="658.5" y="126.6" font-size="11.5" text-anchor="middle" fill="#111" >B2</text>
<rect x="741.1999999999999" y="113.9" width="9.5" height="1.9" fill="#fff"/>
<text x="748.4" y="126.6" font-size="11.5" text-anchor="middle" fill="#111" >B1</text>
<rect x="831.5999999999999" y="113.9" width="9.5" height="1.9" fill="#fff"/>
<text x="838.8" y="126.6" font-size="11.5" text-anchor="middle" fill="#111" >B1</text>
<rect x="921.5999999999999" y="113.9" width="9.5" height="1.9" fill="#fff"/>
<text x="928.8" y="126.6" font-size="11.5" text-anchor="middle" fill="#111" >B2</text>
<text x="392" y="489.8" font-size="11.5" text-anchor="middle" fill="#111" >B2</text>
<text x="568" y="475.5" font-size="11.5" text-anchor="middle" fill="#111" >B1</text>
<text x="658.5" y="475.5" font-size="11.5" text-anchor="middle" fill="#111" >B2</text>
<text x="748.5" y="475.5" font-size="11.5" text-anchor="middle" fill="#111" >B1</text>
<text x="838.8" y="475.5" font-size="11.5" text-anchor="middle" fill="#111" >B1</text>
<text x="929" y="475.5" font-size="11.5" text-anchor="middle" fill="#111" >B2</text>
<text x="1019.5" y="475.5" font-size="11.5" text-anchor="middle" fill="#111" >B2</text>
<text x="1109.4" y="475.5" font-size="11.5" text-anchor="middle" fill="#111" >B-1</text>
<rect x="343.0" y="116.2" width="3.2" height="3.2" stroke="#222" stroke-width="0.9" fill="#fff" />
<rect x="343.0" y="174.6" width="3.2" height="3.2" stroke="#222" stroke-width="0.9" fill="#fff" />
<rect x="343.0" y="234.9" width="3.2" height="3.2" stroke="#222" stroke-width="0.9" fill="#fff" />
<rect x="343.0" y="295.2" width="3.2" height="3.2" stroke="#222" stroke-width="0.9" fill="#fff" />
<rect x="343.0" y="355.4" width="3.2" height="3.2" stroke="#222" stroke-width="0.9" fill="#fff" />
<rect x="343.0" y="415.7" width="3.2" height="3.2" stroke="#222" stroke-width="0.9" fill="#fff" />
<rect x="343.0" y="473.9" width="3.2" height="3.2" stroke="#222" stroke-width="0.9" fill="#fff" />
<rect x="430.7" y="116.3" width="4" height="4" stroke="#222" stroke-width="0.9" fill="#fff" />
<rect x="430.7" y="473.4" width="4" height="4" stroke="#222" stroke-width="0.9" fill="#fff" />
<rect x="521.1" y="116.3" width="4" height="4" stroke="#222" stroke-width="0.9" fill="#fff" />
<rect x="521.1" y="473.4" width="4" height="4" stroke="#222" stroke-width="0.9" fill="#fff" />
<rect x="611.5" y="116.3" width="4" height="4" stroke="#222" stroke-width="0.9" fill="#fff" />
<rect x="611.5" y="473.4" width="4" height="4" stroke="#222" stroke-width="0.9" fill="#fff" />
<rect x="701.9" y="116.3" width="4" height="4" stroke="#222" stroke-width="0.9" fill="#fff" />
<rect x="701.9" y="473.4" width="4" height="4" stroke="#222" stroke-width="0.9" fill="#fff" />
<rect x="792.3" y="116.3" width="4" height="4" stroke="#222" stroke-width="0.9" fill="#fff" />
<rect x="792.3" y="473.4" width="4" height="4" stroke="#222" stroke-width="0.9" fill="#fff" />
<rect x="882.7" y="116.3" width="4" height="4" stroke="#222" stroke-width="0.9" fill="#fff" />
<rect x="882.7" y="473.4" width="4" height="4" stroke="#222" stroke-width="0.9" fill="#fff" />
<rect x="521.1" y="294.7" width="4" height="4" stroke="#222" stroke-width="0.9" fill="#fff" />
<rect x="611.5" y="294.7" width="4" height="4" stroke="#222" stroke-width="0.9" fill="#fff" />
<rect x="701.9" y="294.7" width="4" height="4" stroke="#222" stroke-width="0.9" fill="#fff" />
<rect x="792.3" y="294.7" width="4" height="4" stroke="#222" stroke-width="0.9" fill="#fff" />
<rect x="882.7" y="294.7" width="4" height="4" stroke="#222" stroke-width="0.9" fill="#fff" />
<rect x="430.7" y="294.5" width="4" height="4" stroke="#222" stroke-width="0.9" fill="#fff" />
<rect x="967.55" y="116.75" width="3.5" height="3.5" stroke="#222" stroke-width="0.9" fill="#fff" />
<rect x="973.65" y="116.75" width="3.5" height="3.5" stroke="#222" stroke-width="0.9" fill="#fff" />
<rect x="966.95" y="295.25" width="3.5" height="3.5" stroke="#222" stroke-width="0.9" fill="#fff" />
<rect x="973.75" y="295.25" width="3.5" height="3.5" stroke="#222" stroke-width="0.9" fill="#fff" />
<rect x="972.85" y="473.75" width="3.5" height="3.5" stroke="#222" stroke-width="0.9" fill="#fff" />
<rect x="1063.65" y="473.75" width="3.5" height="3.5" stroke="#222" stroke-width="0.9" fill="#fff" />
<rect x="1063.55" y="116.25" width="3.5" height="3.5" stroke="#222" stroke-width="0.9" fill="#fff" />
<rect x="1151.95" y="115.95" width="3.5" height="3.5" stroke="#222" stroke-width="0.9" fill="#fff" />
<rect x="1063.55" y="174.25" width="3.5" height="3.5" stroke="#222" stroke-width="0.9" fill="#fff" />
<rect x="1151.95" y="174.25" width="3.5" height="3.5" stroke="#222" stroke-width="0.9" fill="#fff" />
<rect x="1063.55" y="234.75" width="3.5" height="3.5" stroke="#222" stroke-width="0.9" fill="#fff" />
<rect x="1151.95" y="234.75" width="3.5" height="3.5" stroke="#222" stroke-width="0.9" fill="#fff" />
<rect x="1063.55" y="295.25" width="3.5" height="3.5" stroke="#222" stroke-width="0.9" fill="#fff" />
<rect x="1151.95" y="294.95" width="3.5" height="3.5" stroke="#222" stroke-width="0.9" fill="#fff" />
<rect x="1152.25" y="354.85" width="3.5" height="3.5" stroke="#222" stroke-width="0.9" fill="#fff" />
<rect x="1152.25" y="415.25" width="3.5" height="3.5" stroke="#222" stroke-width="0.9" fill="#fff" />
<rect x="1152.25" y="474.25" width="3.5" height="3.5" stroke="#222" stroke-width="0.9" fill="#fff" />
<rect x="442.6" y="116.3" width="1.7" height="324.4" stroke="#222" stroke-width="0.7" fill="#888" />
<rect x="442.6" y="456.4" width="1.7" height="21" stroke="#222" stroke-width="0.7" fill="#888" />
<circle cx="441.8" cy="207" r="0.9" stroke="#111" stroke-width="0.5" fill="#111"/>
<circle cx="441.8" cy="296.7" r="0.9" stroke="#111" stroke-width="0.5" fill="#111"/>
<circle cx="441.8" cy="386.7" r="0.9" stroke="#111" stroke-width="0.5" fill="#111"/>
<rect x="971.4" y="116.3" width="1.9" height="211.7" stroke="#222" stroke-width="0.6" fill="#444" />
<rect x="971.4" y="343.3" width="1.9" height="134.2" stroke="#222" stroke-width="0.6" fill="#444" />
<line x1="521.5" y1="116.5" x2="521.5" y2="297" stroke="#333" stroke-width="1" stroke-dasharray="36.2 4 1 4" stroke-dashoffset="19.8"/>
<line x1="522" y1="128.3" x2="971" y2="128.3" stroke="#333" stroke-width="0.9" stroke-dasharray="36.2 4 1 4" stroke-dashoffset="-3.1"/>
<line x1="522" y1="286.3" x2="971" y2="286.3" stroke="#333" stroke-width="0.9" stroke-dasharray="36.2 4 1 4"/>
<line x1="523" y1="296.7" x2="971" y2="296.7" stroke="#333" stroke-width="0.9" stroke-dasharray="36.2 4 1 4"/>
<line x1="522" y1="116" x2="972" y2="298" stroke="#222" stroke-width="0.9" stroke-dasharray="36.2 4 1 4"/>
<line x1="522" y1="298" x2="972" y2="116" stroke="#222" stroke-width="0.9" stroke-dasharray="36.2 4 1 4"/>
<rect x="521.35" y="294.95" width="3.5" height="3.5" stroke="#222" stroke-width="0.9" fill="#fff" />
<rect x="552.5" y="141.7" width="31.5" height="310.3" stroke="#222" stroke-width="1.3" fill="none" />
<rect x="560.8" y="146.4" width="15.0" height="301.1" stroke="#222" stroke-width="1.3" fill="none" />
<path d="M556.65,449 V146.2 H579.9 V449 H556.65" stroke="#aaa" stroke-width="0.8" fill="none" stroke-dasharray="8 5"/>
<line x1="560.8" y1="149.3" x2="575.8" y2="149.3" stroke="#333" stroke-width="0.8" />
<line x1="560.8" y1="152.3" x2="575.8" y2="152.3" stroke="#333" stroke-width="0.8" />
<line x1="560.8" y1="155.3" x2="575.8" y2="155.3" stroke="#333" stroke-width="0.8" />
<line x1="560.8" y1="158.3" x2="575.8" y2="158.3" stroke="#333" stroke-width="0.8" />
<line x1="560.8" y1="161.3" x2="575.8" y2="161.3" stroke="#333" stroke-width="0.8" />
<line x1="560.8" y1="164.3" x2="575.8" y2="164.3" stroke="#333" stroke-width="0.8" />
<line x1="560.8" y1="167.3" x2="575.8" y2="167.3" stroke="#333" stroke-width="0.8" />
<line x1="568.3" y1="147" x2="568.3" y2="167.3" stroke="#333" stroke-width="0.7" />
<path d="M566.3,149.5 L568.3,147 L570.3,149.5" stroke="#333" stroke-width="0.7" fill="none" />
<line x1="560.8" y1="444.5" x2="575.8" y2="444.5" stroke="#333" stroke-width="0.8" />
<line x1="560.8" y1="441.5" x2="575.8" y2="441.5" stroke="#333" stroke-width="0.8" />
<line x1="560.8" y1="438.5" x2="575.8" y2="438.5" stroke="#333" stroke-width="0.8" />
<line x1="560.8" y1="435.5" x2="575.8" y2="435.5" stroke="#333" stroke-width="0.8" />
<line x1="560.8" y1="432.5" x2="575.8" y2="432.5" stroke="#333" stroke-width="0.8" />
<line x1="560.8" y1="429.5" x2="575.8" y2="429.5" stroke="#333" stroke-width="0.8" />
<line x1="560.8" y1="426.5" x2="575.8" y2="426.5" stroke="#333" stroke-width="0.8" />
<line x1="568.3" y1="426.5" x2="568.3" y2="447" stroke="#333" stroke-width="0.7" />
<path d="M566.3,444.5 L568.3,447 L570.3,444.5" stroke="#333" stroke-width="0.7" fill="none" />
<rect x="643" y="141.7" width="31.299999999999955" height="310.3" stroke="#222" stroke-width="1.3" fill="none" />
<rect x="651.2" y="146.4" width="15.199999999999932" height="301.1" stroke="#222" stroke-width="1.3" fill="none" />
<path d="M647.1,449 V146.2 H670.3499999999999 V449 H647.1" stroke="#aaa" stroke-width="0.8" fill="none" stroke-dasharray="8 5"/>
<line x1="651.2" y1="149.3" x2="666.4" y2="149.3" stroke="#333" stroke-width="0.8" />
<line x1="651.2" y1="152.3" x2="666.4" y2="152.3" stroke="#333" stroke-width="0.8" />
<line x1="651.2" y1="155.3" x2="666.4" y2="155.3" stroke="#333" stroke-width="0.8" />
<line x1="651.2" y1="158.3" x2="666.4" y2="158.3" stroke="#333" stroke-width="0.8" />
<line x1="651.2" y1="161.3" x2="666.4" y2="161.3" stroke="#333" stroke-width="0.8" />
<line x1="651.2" y1="164.3" x2="666.4" y2="164.3" stroke="#333" stroke-width="0.8" />
<line x1="651.2" y1="167.3" x2="666.4" y2="167.3" stroke="#333" stroke-width="0.8" />
<line x1="658.8" y1="147" x2="658.8" y2="167.3" stroke="#333" stroke-width="0.7" />
<path d="M656.8,149.5 L658.8,147 L660.8,149.5" stroke="#333" stroke-width="0.7" fill="none" />
<line x1="651.2" y1="444.5" x2="666.4" y2="444.5" stroke="#333" stroke-width="0.8" />
<line x1="651.2" y1="441.5" x2="666.4" y2="441.5" stroke="#333" stroke-width="0.8" />
<line x1="651.2" y1="438.5" x2="666.4" y2="438.5" stroke="#333" stroke-width="0.8" />
<line x1="651.2" y1="435.5" x2="666.4" y2="435.5" stroke="#333" stroke-width="0.8" />
<line x1="651.2" y1="432.5" x2="666.4" y2="432.5" stroke="#333" stroke-width="0.8" />
<line x1="651.2" y1="429.5" x2="666.4" y2="429.5" stroke="#333" stroke-width="0.8" />
<line x1="651.2" y1="426.5" x2="666.4" y2="426.5" stroke="#333" stroke-width="0.8" />
<line x1="658.8" y1="426.5" x2="658.8" y2="447" stroke="#333" stroke-width="0.7" />
<path d="M656.8,444.5 L658.8,447 L660.8,444.5" stroke="#333" stroke-width="0.7" fill="none" />
<rect x="575.8" y="323.7" width="8.2" height="15" stroke="#222" stroke-width="1.2" fill="none" />
<rect x="643" y="323.7" width="8.2" height="15" stroke="#222" stroke-width="1.2" fill="none" />
<line x1="585" y1="319.7" x2="642" y2="319.7" stroke="#bbb" stroke-width="1" stroke-dasharray="6 3"/>
<line x1="585" y1="323.8" x2="642" y2="323.8" stroke="#bbb" stroke-width="1" stroke-dasharray="6 3"/>
<line x1="585" y1="338.7" x2="642" y2="338.7" stroke="#bbb" stroke-width="1" stroke-dasharray="6 3"/>
<line x1="585" y1="343" x2="642" y2="343" stroke="#bbb" stroke-width="1" stroke-dasharray="6 3"/>
<rect x="605.8" y="343.3" width="15.4" height="33" stroke="#222" stroke-width="1.3" fill="none" />
<line x1="605.8" y1="347.0" x2="621.2" y2="347.0" stroke="#555" stroke-width="0.6" />
<line x1="605.8" y1="349.6" x2="621.2" y2="349.6" stroke="#555" stroke-width="0.6" />
<line x1="605.8" y1="352.2" x2="621.2" y2="352.2" stroke="#555" stroke-width="0.6" />
<line x1="605.8" y1="354.8" x2="621.2" y2="354.8" stroke="#555" stroke-width="0.6" />
<line x1="605.8" y1="357.4" x2="621.2" y2="357.4" stroke="#555" stroke-width="0.6" />
<line x1="605.8" y1="360.0" x2="621.2" y2="360.0" stroke="#555" stroke-width="0.6" />
<line x1="605.8" y1="362.6" x2="621.2" y2="362.6" stroke="#555" stroke-width="0.6" />
<line x1="605.8" y1="365.2" x2="621.2" y2="365.2" stroke="#555" stroke-width="0.6" />
<line x1="605.8" y1="367.8" x2="621.2" y2="367.8" stroke="#555" stroke-width="0.6" />
<line x1="605.8" y1="370.4" x2="621.2" y2="370.4" stroke="#555" stroke-width="0.6" />
<line x1="605.8" y1="373.0" x2="621.2" y2="373.0" stroke="#555" stroke-width="0.6" />
<line x1="605.8" y1="375.6" x2="621.2" y2="375.6" stroke="#555" stroke-width="0.6" />
<line x1="613.5" y1="352" x2="613.5" y2="376" stroke="#333" stroke-width="0.7" />
<path d="M601,343 V381 H626 V343" stroke="#aaa" stroke-width="0.8" fill="none" stroke-dasharray="6 3"/>
<rect x="564.8" y="321.7" width="7" height="16.6" stroke="#ccc" stroke-width="0.6" fill="#fff" />
<text x="0" y="0" font-size="5.5" text-anchor="middle" fill="#333" transform="translate(570.3,330) rotate(-90)">-1.260</text>
<rect x="655.3" y="321.7" width="7" height="16.6" stroke="#ccc" stroke-width="0.6" fill="#fff" />
<text x="0" y="0" font-size="5.5" text-anchor="middle" fill="#333" transform="translate(660.8,330) rotate(-90)">-1.260</text>
<line x1="570" y1="212.4" x2="592" y2="212.4" stroke="#777" stroke-width="0.6" />
<line x1="572.5" y1="215.5" x2="578.5" y2="209.5" stroke="#777" stroke-width="0.6" />
<line x1="581" y1="215.5" x2="587" y2="209.5" stroke="#777" stroke-width="0.6" />
<text x="592" y="211.3" font-size="10" text-anchor="start" fill="#111" >550</text>
<rect x="733.8" y="146.2" width="30.4" height="120.1" stroke="#222" stroke-width="1.2" fill="none" />
<text x="0" y="0" font-size="5" text-anchor="middle" fill="#333" transform="translate(744.5,188.4) rotate(-90)">Стапель</text>
<text x="0" y="0" font-size="5" text-anchor="middle" fill="#333" transform="translate(751.7,188.4) rotate(-90)">для правки</text>
<text x="0" y="0" font-size="5" text-anchor="middle" fill="#333" transform="translate(758.5,185.5) rotate(-90)">рам</text>
<path d="M792.5,287 V127.2 H822.5 V287 H792.5" stroke="#333" stroke-width="0.9" fill="none" stroke-dasharray="7 3"/>
<path d="M793.5,130 L821.5,284 M821.5,130 L793.5,284" stroke="#555" stroke-width="0.8" fill="none" stroke-dasharray="6 3"/>
<text x="850" y="191.3" font-size="5.8" text-anchor="middle" fill="#333" >Габарит</text>
<text x="850" y="198.10000000000002" font-size="5.8" text-anchor="middle" fill="#333" >опорно-мостового</text>
<text x="850" y="204.9" font-size="5.8" text-anchor="middle" fill="#333" >крана Q=5</text>
<text x="850" y="211.70000000000002" font-size="5.8" text-anchor="middle" fill="#333" >т.</text>
<rect x="915" y="146.2" width="29.7" height="120.5" stroke="#222" stroke-width="1.2" fill="none" />
<text x="0" y="0" font-size="6" text-anchor="middle" fill="#333" transform="translate(931.7,206.3) rotate(-90)">Вибростенд</text>
<rect x="915" y="326.7" width="29.7" height="120.3" stroke="#222" stroke-width="1.2" fill="none" />
<text x="0" y="0" font-size="5" text-anchor="middle" fill="#333" transform="translate(928.9,387.1) rotate(-90)">Тормозной</text>
<text x="0" y="0" font-size="5" text-anchor="middle" fill="#333" transform="translate(935,387.1) rotate(-90)">стенд</text>
<text x="799.7" y="310.8" font-size="5.6" text-anchor="start" fill="#333" >Зона работы крана</text>
<path d="M799.7,312.3 H845.8 L860.8,296.7" stroke="#444" stroke-width="0.7" fill="none" />
<circle cx="747.2" cy="321.7" r="7.5" stroke="#333" stroke-width="0.9" fill="none"/>
<text x="747.2" y="325.4" font-size="10.5" text-anchor="middle" fill="#111" >2</text>
<rect x="729.7" y="333.3" width="35" height="13" stroke="#ccc" stroke-width="0.8" fill="none" />
<text x="747.2" y="343.8" font-size="11" text-anchor="middle" fill="#111" >0.000</text>
<rect x="741.2" y="350.8" width="12" height="11.5" stroke="#333" stroke-width="0.8" fill="none" />
<path d="M746.60,360.00 L748.50,352.60 L745.30,354.60" stroke="#111" stroke-width="1.0" fill="none" stroke-linecap="round" stroke-linejoin="round"/>
<circle cx="421.6" cy="321" r="7.5" stroke="#333" stroke-width="0.9" fill="none"/>
<text x="421.6" y="324.7" font-size="10.5" text-anchor="middle" fill="#111" >1</text>
<rect x="415.6" y="330.6" width="12" height="11.5" stroke="#333" stroke-width="0.8" fill="none" />
<path d="M421.00,339.80 L422.90,332.40 L419.70,334.40" stroke="#111" stroke-width="1.0" fill="none" stroke-linecap="round" stroke-linejoin="round"/>
<circle cx="1019.5" cy="166.2" r="8" stroke="#333" stroke-width="0.9" fill="none"/>
<text x="1019.5" y="169.89999999999998" font-size="10.5" text-anchor="middle" fill="#111" >13</text>
<rect x="1013.5" y="175.5" width="12" height="11.5" stroke="#333" stroke-width="0.8" fill="none" />
<path d="M1018.90,184.70 L1020.80,177.30 L1017.60,179.30" stroke="#111" stroke-width="1.0" fill="none" stroke-linecap="round" stroke-linejoin="round"/>
<circle cx="1111" cy="140" r="7.7" stroke="#333" stroke-width="0.9" fill="none"/>
<text x="1111" y="143.7" font-size="10.5" text-anchor="middle" fill="#111" >14</text>
<rect x="1105" y="150.4" width="12" height="11.5" stroke="#333" stroke-width="0.8" fill="none" />
<path d="M1110.40,159.60 L1112.30,152.20 L1109.10,154.20" stroke="#111" stroke-width="1.0" fill="none" stroke-linecap="round" stroke-linejoin="round"/>
<circle cx="1113" cy="197.3" r="7.7" stroke="#333" stroke-width="0.9" fill="none"/>
<text x="1113" y="201.0" font-size="10.5" text-anchor="middle" fill="#111" >12</text>
<rect x="1107" y="207" width="12" height="11.5" stroke="#333" stroke-width="0.8" fill="none" />
<path d="M1112.40,216.20 L1114.30,208.80 L1111.10,210.80" stroke="#111" stroke-width="1.0" fill="none" stroke-linecap="round" stroke-linejoin="round"/>
<circle cx="1108.5" cy="253.3" r="7.7" stroke="#333" stroke-width="0.9" fill="none"/>
<text x="1108.5" y="257.0" font-size="10.5" text-anchor="middle" fill="#111" >11</text>
<rect x="1102.5" y="263.3" width="12" height="11.5" stroke="#333" stroke-width="0.8" fill="none" />
<path d="M1107.90,272.50 L1109.80,265.10 L1106.60,267.10" stroke="#111" stroke-width="1.0" fill="none" stroke-linecap="round" stroke-linejoin="round"/>
<circle cx="1069" cy="371.6" r="7.5" stroke="#333" stroke-width="0.9" fill="none"/>
<text x="1069" y="375.3" font-size="10.5" text-anchor="middle" fill="#111" >9</text>
<rect x="1051.5" y="383.3" width="35" height="13" stroke="#ccc" stroke-width="0.8" fill="none" />
<text x="1069" y="393.8" font-size="11" text-anchor="middle" fill="#111" >0.000</text>
<rect x="1063" y="400" width="12" height="11.5" stroke="#333" stroke-width="0.8" fill="none" />
<path d="M1068.40,409.20 L1070.30,401.80 L1067.10,403.80" stroke="#111" stroke-width="1.0" fill="none" stroke-linecap="round" stroke-linejoin="round"/>
<circle cx="985.7" cy="312" r="7.5" stroke="#333" stroke-width="0.9" fill="none"/>
<text x="985.7" y="315.7" font-size="10.5" text-anchor="middle" fill="#111" >10</text>
<rect x="996.3" y="306.7" width="11.4" height="11" stroke="#333" stroke-width="0.8" fill="none" />
<path d="M1001.40,316.00 L1003.30,308.60 L1000.10,310.60" stroke="#111" stroke-width="1.0" fill="none" stroke-linecap="round" stroke-linejoin="round"/>
<path d="M975,114.9 H1008 M1032,114.9 H1157.3" stroke="#bbb" stroke-width="2" fill="none" />
<path d="M1156.4,114.9 V266 M1156.4,292.7 V373.3 M1156.4,404.7 V478.3" stroke="#bbb" stroke-width="2" fill="none" />
<line x1="1070" y1="478.3" x2="1157" y2="478.3" stroke="#bbb" stroke-width="2" />
<path d="M1004.2,113.9 V91.2 H1035.8 V113.9" stroke="#333" stroke-width="1.2" fill="none" />
<path d="M1008,114 L1022,104.5 M1027,110 L1032,114" stroke="#777" stroke-width="0.8" fill="none" />
<text x="1021.7" y="125.8" font-size="11.5" text-anchor="middle" fill="#111" >Д1</text>
<text x="1097.6" y="126" font-size="11.5" text-anchor="middle" fill="#111" >B-6</text>
<text x="1145.5" y="152.7" font-size="11.5" text-anchor="middle" fill="#111" >B-4</text>
<text x="1145.4" y="453.4" font-size="11.5" text-anchor="middle" fill="#111" >B-2</text>
<path d="M1157,262 H1180.7 V293.7 H1157" stroke="#333" stroke-width="1.2" fill="none" />
<path d="M1157,266 L1167,281 M1159,285.7 L1162,281.7" stroke="#777" stroke-width="0.7" fill="none" />
<path d="M1157,373.3 H1180.7 V404.7 H1157" stroke="#333" stroke-width="1.2" fill="none" />
<path d="M1157,377.3 L1167,392.3 M1159,396.7 L1162,392.7" stroke="#777" stroke-width="0.7" fill="none" />
<text x="1155.3" y="282.7" font-size="11.5" text-anchor="middle" fill="#111" >Д1</text>
<text x="1154.5" y="391.7" font-size="11.5" text-anchor="middle" fill="#111" >Д1</text>
<path d="M1068,116 V138 L1060,150.4 M1068,152.4 V200 L1060,212 M1068,214 V234.4" stroke="#222" stroke-width="2" fill="none" />
<line x1="1068" y1="174.4" x2="1156" y2="174.4" stroke="#222" stroke-width="2" />
<path d="M972,234.4 H988 L1000,241.7 M1001.3,234.4 H1134.7 L1146.7,241.7 M1148,234.4 H1156" stroke="#222" stroke-width="2" fill="none" />
<rect x="972.5" y="276.7" width="113.2" height="18" stroke="#222" stroke-width="1" fill="none" />
<line x1="991.5" y1="276.7" x2="991.5" y2="294.7" stroke="#222" stroke-width="1" />
<line x1="994.5" y1="276.7" x2="994.5" y2="294.7" stroke="#222" stroke-width="1" />
<line x1="997.5" y1="276.7" x2="997.5" y2="294.7" stroke="#222" stroke-width="1" />
<line x1="1001.5" y1="276.7" x2="1001.5" y2="294.7" stroke="#222" stroke-width="1" />
<line x1="1004.5" y1="276.7" x2="1004.5" y2="294.7" stroke="#222" stroke-width="1" />
<line x1="1007.5" y1="276.7" x2="1007.5" y2="294.7" stroke="#222" stroke-width="1" />
<line x1="1011.5" y1="276.7" x2="1011.5" y2="294.7" stroke="#222" stroke-width="1" />
<line x1="1014.5" y1="276.7" x2="1014.5" y2="294.7" stroke="#222" stroke-width="1" />
<line x1="1017.5" y1="276.7" x2="1017.5" y2="294.7" stroke="#222" stroke-width="1" />
<line x1="1021.5" y1="276.7" x2="1021.5" y2="294.7" stroke="#222" stroke-width="1" />
<line x1="1024.5" y1="276.7" x2="1024.5" y2="294.7" stroke="#222" stroke-width="1" />
<line x1="1027.5" y1="276.7" x2="1027.5" y2="294.7" stroke="#222" stroke-width="1" />
<line x1="1031.5" y1="276.7" x2="1031.5" y2="294.7" stroke="#222" stroke-width="1" />
<line x1="1034.5" y1="276.7" x2="1034.5" y2="294.7" stroke="#222" stroke-width="1" />
<line x1="1037.5" y1="276.7" x2="1037.5" y2="294.7" stroke="#222" stroke-width="1" />
<line x1="1041.5" y1="276.7" x2="1041.5" y2="294.7" stroke="#222" stroke-width="1" />
<line x1="1055.5" y1="276.7" x2="1055.5" y2="294.7" stroke="#222" stroke-width="1" />
<line x1="1058.5" y1="276.7" x2="1058.5" y2="294.7" stroke="#222" stroke-width="1" />
<line x1="1062.5" y1="276.7" x2="1062.5" y2="294.7" stroke="#222" stroke-width="1" />
<line x1="1065.5" y1="276.7" x2="1065.5" y2="294.7" stroke="#222" stroke-width="1" />
<line x1="1068.5" y1="276.7" x2="1068.5" y2="294.7" stroke="#222" stroke-width="1" />
<line x1="1071.5" y1="276.7" x2="1071.5" y2="294.7" stroke="#222" stroke-width="1" />
<line x1="1074.5" y1="276.7" x2="1074.5" y2="294.7" stroke="#222" stroke-width="1" />
<line x1="1078.5" y1="276.7" x2="1078.5" y2="294.7" stroke="#222" stroke-width="1" />
<line x1="1081.5" y1="276.7" x2="1081.5" y2="294.7" stroke="#222" stroke-width="1" />
<line x1="1084.5" y1="276.7" x2="1084.5" y2="294.7" stroke="#222" stroke-width="1" />
<line x1="972" y1="299.6" x2="1156" y2="299.6" stroke="#222" stroke-width="2" />
<path d="M972.3,325 H1016.4 V313.7" stroke="#222" stroke-width="2" fill="none" />
<path d="M1016,301.3 L1022,312.7" stroke="#222" stroke-width="1" fill="none" />
<text x="1025.3" y="313.3" font-size="11.5" text-anchor="start" fill="#111" >Д4</text>
<path d="M972.5,328 L963.7,342" stroke="#222" stroke-width="1" fill="none" />
<text x="974.4" y="340.4" font-size="11.5" text-anchor="start" fill="#111" >Д3</text>
<line x1="975" y1="286.3" x2="972" y2="286.3" stroke="#333" stroke-width="0.7" />
<path d="M443.4,373 H492.2 V413.8 M492.2,451.8 V478" stroke="#222" stroke-width="2" fill="none" />
<path d="M492,414 L497.8,427.8 M492,452 L497.8,438" stroke="#555" stroke-width="0.6" fill="none" />
<line x1="443.4" y1="387.6" x2="470" y2="387.6" stroke="#333" stroke-width="2" />
<rect x="469.6" y="385.0" width="2" height="5.2" rx="0.8" fill="#777" stroke="#222" stroke-width="0.7"/>
<line x1="443.4" y1="403" x2="470" y2="403" stroke="#333" stroke-width="2" />
<rect x="469.6" y="400.4" width="2" height="5.2" rx="0.8" fill="#777" stroke="#222" stroke-width="0.7"/>
<line x1="443.4" y1="418.2" x2="470" y2="418.2" stroke="#333" stroke-width="2" />
<rect x="469.6" y="415.59999999999997" width="2" height="5.2" rx="0.8" fill="#777" stroke="#222" stroke-width="0.7"/>
<line x1="443.4" y1="433.1" x2="491" y2="433.1" stroke="#333" stroke-width="2" />
<rect x="490.6" y="430.3" width="2.2" height="5.6" rx="0.8" fill="#777" stroke="#222" stroke-width="0.7"/>
<circle cx="432" cy="378" r="7" stroke="#333" stroke-width="0.9" fill="none"/>
<text x="432" y="381.6" font-size="10" text-anchor="middle" fill="#111" >8</text>
<line x1="439" y1="378" x2="448.4" y2="378" stroke="#333" stroke-width="0.8" />
<rect x="450.4" y="374.5" width="11.2" height="10.5" stroke="#555" stroke-width="0.7" fill="#fff" />
<path d="M455.40,383.50 L457.30,376.10 L454.10,378.10" stroke="#111" stroke-width="1.0" fill="none" stroke-linecap="round" stroke-linejoin="round"/>
<path d="M463.6,385 L470.6,373.5" stroke="#777" stroke-width="0.6" fill="none" />
<circle cx="432" cy="393.8" r="7" stroke="#333" stroke-width="0.9" fill="none"/>
<text x="432" y="397.40000000000003" font-size="10" text-anchor="middle" fill="#111" >7</text>
<line x1="439" y1="393.8" x2="448.4" y2="393.8" stroke="#333" stroke-width="0.8" />
<rect x="450.4" y="390.3" width="11.2" height="10.5" stroke="#555" stroke-width="0.7" fill="#fff" />
<path d="M455.40,399.30 L457.30,391.90 L454.10,393.90" stroke="#111" stroke-width="1.0" fill="none" stroke-linecap="round" stroke-linejoin="round"/>
<path d="M463.6,400.8 L470.6,389.3" stroke="#777" stroke-width="0.6" fill="none" />
<circle cx="432" cy="409.5" r="7" stroke="#333" stroke-width="0.9" fill="none"/>
<text x="432" y="413.1" font-size="10" text-anchor="middle" fill="#111" >6</text>
<line x1="439" y1="409.5" x2="448.4" y2="409.5" stroke="#333" stroke-width="0.8" />
<rect x="450.4" y="406.0" width="11.2" height="10.5" stroke="#555" stroke-width="0.7" fill="#fff" />
<path d="M455.40,415.00 L457.30,407.60 L454.10,409.60" stroke="#111" stroke-width="1.0" fill="none" stroke-linecap="round" stroke-linejoin="round"/>
<path d="M463.6,416.5 L470.6,405.0" stroke="#777" stroke-width="0.6" fill="none" />
<circle cx="432" cy="425.3" r="7" stroke="#333" stroke-width="0.9" fill="none"/>
<text x="432" y="428.90000000000003" font-size="10" text-anchor="middle" fill="#111" >5</text>
<line x1="439" y1="425.3" x2="448.4" y2="425.3" stroke="#333" stroke-width="0.8" />
<rect x="450.4" y="421.8" width="11.2" height="10.5" stroke="#555" stroke-width="0.7" fill="#fff" />
<path d="M455.40,430.80 L457.30,423.40 L454.10,425.40" stroke="#111" stroke-width="1.0" fill="none" stroke-linecap="round" stroke-linejoin="round"/>
<path d="M463.6,432.3 L470.6,420.8" stroke="#777" stroke-width="0.6" fill="none" />
<circle cx="482" cy="385.5" r="7" stroke="#333" stroke-width="0.9" fill="none"/>
<text x="482" y="389.2" font-size="10.5" text-anchor="middle" fill="#111" >4</text>
<rect x="476" y="394.6" width="12" height="11.5" stroke="#333" stroke-width="0.8" fill="none" />
<path d="M481.40,403.80 L483.30,396.40 L480.10,398.40" stroke="#111" stroke-width="1.0" fill="none" stroke-linecap="round" stroke-linejoin="round"/>
<circle cx="465.9" cy="448.8" r="7.2" stroke="#333" stroke-width="0.9" fill="none"/>
<text x="465.9" y="452.5" font-size="10.5" text-anchor="middle" fill="#111" >3</text>
<rect x="459.9" y="459.3" width="12" height="11.5" stroke="#333" stroke-width="0.8" fill="none" />
<path d="M465.30,468.50 L467.20,461.10 L464.00,463.10" stroke="#111" stroke-width="1.0" fill="none" stroke-linecap="round" stroke-linejoin="round"/>
<path d="M443.4,441 L454.8,451.2" stroke="#777" stroke-width="0.6" fill="none" />
<text x="433" y="453" font-size="11.5" text-anchor="middle" fill="#111" >Д2</text>
<text x="659.8" y="661.5" font-size="10.5" text-anchor="start" fill="#111" >1. Разрез 1-1 выполнен см. л. АР-16.</text>
<text x="659.8" y="672.7" font-size="10.5" text-anchor="start" fill="#111" >2. Разрез 2-2 выполнен см. л. АР-17.</text>
<text x="659.8" y="684.0" font-size="10.5" text-anchor="start" fill="#111" >3. Спецификация заполнения оконных и дверных</text>
<text x="671.5" y="695.3" font-size="10.5" text-anchor="start" fill="#111" >проемов выполнена см. л. АР-21.</text>
<text x="659.8" y="706.5" font-size="10.5" text-anchor="start" fill="#111" >4. Экспликация полов выполнена см. л. АР-21.</text>
<line x1="659.1" y1="717" x2="1200" y2="717" stroke="#111" stroke-width="1.5" />
<line x1="659.1" y1="717" x2="659.1" y2="882.5" stroke="#111" stroke-width="1.5" />
<line x1="719.2" y1="717" x2="719.2" y2="882.5" stroke="#111" stroke-width="1.2" />
<line x1="779.4" y1="717" x2="779.4" y2="882.5" stroke="#111" stroke-width="1.2" />
<line x1="824.8" y1="717" x2="824.8" y2="882.5" stroke="#111" stroke-width="1.2" />
<line x1="854.4" y1="717" x2="854.4" y2="882.5" stroke="#111" stroke-width="1.2" />
<line x1="689" y1="717" x2="689" y2="794" stroke="#666" stroke-width="1" />
<line x1="749.2" y1="717" x2="749.2" y2="794" stroke="#666" stroke-width="1" />
<line x1="659.1" y1="732.2" x2="854.4" y2="732.2" stroke="#111" stroke-width="1" />
<line x1="659.1" y1="747.4" x2="854.4" y2="747.4" stroke="#111" stroke-width="1" />
<line x1="659.1" y1="762.8" x2="854.4" y2="762.8" stroke="#111" stroke-width="1" />
<line x1="659.1" y1="778" x2="854.4" y2="778" stroke="#111" stroke-width="1" />
<line x1="659.1" y1="794" x2="854.4" y2="794" stroke="#111" stroke-width="1" />
<line x1="659.1" y1="807.5" x2="854.4" y2="807.5" stroke="#111" stroke-width="1" />
<line x1="659.1" y1="822.5" x2="854.4" y2="822.5" stroke="#111" stroke-width="1" />
<line x1="659.1" y1="837.7" x2="854.4" y2="837.7" stroke="#111" stroke-width="1" />
<line x1="659.1" y1="852.5" x2="854.4" y2="852.5" stroke="#111" stroke-width="1" />
<line x1="659.1" y1="867.3" x2="854.4" y2="867.3" stroke="#111" stroke-width="1" />
<line x1="855" y1="747" x2="1200" y2="747" stroke="#111" stroke-width="1.2" />
<line x1="855" y1="794.5" x2="1200" y2="794.5" stroke="#111" stroke-width="1.2" />
<line x1="855" y1="837.4" x2="1200" y2="837.4" stroke="#111" stroke-width="1.2" />
<line x1="1065.2" y1="794.5" x2="1065.2" y2="882.5" stroke="#111" stroke-width="1.2" />
<line x1="1110.3" y1="794.5" x2="1110.3" y2="837.4" stroke="#111" stroke-width="1.2" />
<line x1="1155.2" y1="794.5" x2="1155.2" y2="837.4" stroke="#111" stroke-width="1.2" />
<line x1="1065" y1="809.7" x2="1200" y2="809.7" stroke="#111" stroke-width="1.2" />
<text x="662.2" y="789.5" font-size="12.8" text-anchor="start" fill="#111" >Изм.</text>
<text x="690.1" y="789.5" font-size="12.8" text-anchor="start" fill="#111" >Кол.</text>
<text x="720.3" y="789.5" font-size="12.8" text-anchor="start" fill="#111" >Лист</text>
<text x="749.9" y="789.5" font-size="10" text-anchor="start" fill="#111" >№док.</text>
<text x="782" y="789.5" font-size="12.8" text-anchor="start" fill="#111" >Подп.</text>
<text x="825.9" y="789.5" font-size="12.8" text-anchor="start" fill="#111" >Дата</text>
<text x="661.6" y="819.8" font-size="10.5" text-anchor="start" fill="#111" textLength="46" lengthAdjust="spacingAndGlyphs">Разработал</text>
<text x="722.8" y="818.1" font-size="10" text-anchor="start" fill="#111" textLength="43.3" lengthAdjust="spacingAndGlyphs">Решетова</text>
<text x="829" y="820.8" font-size="10.5" text-anchor="start" fill="#111" textLength="20.5" lengthAdjust="spacingAndGlyphs">04.23</text>
<text x="661.6" y="848.7" font-size="10.5" text-anchor="start" fill="#111" textLength="34.4" lengthAdjust="spacingAndGlyphs">Н. контр.</text>
<text x="722.8" y="848" font-size="10" text-anchor="start" fill="#111" textLength="50.7" lengthAdjust="spacingAndGlyphs">Двоеглазов</text>
<text x="829" y="850.4" font-size="10.5" text-anchor="start" fill="#111" textLength="20.5" lengthAdjust="spacingAndGlyphs">04.23</text>
<text x="661.6" y="864.7" font-size="10.5" text-anchor="start" fill="#111" textLength="16" lengthAdjust="spacingAndGlyphs">ГИП</text>
<text x="723.9" y="863.5" font-size="10" text-anchor="start" fill="#111" textLength="40.1" lengthAdjust="spacingAndGlyphs">Коротаев</text>
<text x="829" y="865.2" font-size="10.5" text-anchor="start" fill="#111" textLength="20.5" lengthAdjust="spacingAndGlyphs">04.23</text>
<g transform="translate(775,795) scale(0.1)" fill="none" stroke-linecap="round" stroke-linejoin="round">
<path d="M65,200 L195,118 L205,140 L292,88 M300,90 L245,215 C215,265 150,295 135,320 C125,345 160,345 180,315 C205,280 230,245 250,200 M335,125 C310,180 280,250 240,300 M260,265 C275,230 290,210 305,215 L320,235 C330,215 345,210 355,225 L370,215 C385,208 395,212 405,215" stroke="#111" stroke-width="11"/>
<path d="M292,85 L300,100" stroke="#111" stroke-width="22"/>
<path d="M125,620 C160,580 210,530 268,450" stroke="#111" stroke-width="24"/>
<path d="M235,500 C255,480 265,510 270,535 C290,500 310,505 320,520 L330,560 C370,510 440,470 565,455 M330,540 C350,530 380,540 395,560" stroke="#111" stroke-width="13"/>
<path d="M150,700 C180,640 260,590 280,610 C300,640 200,740 150,740 C110,740 140,680 200,650 C250,620 290,620 260,690 C240,730 180,760 160,730 M120,720 C150,650 230,600 250,620 M250,720 C300,650 380,560 430,540 C440,560 350,660 300,700 M270,700 C330,640 400,570 445,560 M290,710 C340,650 390,600 420,575 M330,690 L270,815" stroke="#555" stroke-width="8"/>
</g>
<text x="1029.4" y="736.8" font-size="12" text-anchor="middle" fill="#111" >02-23П</text>
<text x="1038.5" y="761.6" font-size="10.6" text-anchor="middle" fill="#111" >«Здание СТО», расположенное по адресу:</text>
<text x="1038.7" y="772.7" font-size="10.6" text-anchor="middle" fill="#111" >Ленинградская область, г. Санкт-Петербург, Пушкинский район,</text>
<text x="1038.7" y="782.9" font-size="10.6" text-anchor="middle" fill="#111" >п. Шушары, ул. Софийская, технопарк "Софийский"</text>
<text x="960.5" y="819.3" font-size="10.6" text-anchor="middle" fill="#111" >ООО "Большегруз Сервис СПБ"</text>
<text x="1067.2" y="807" font-size="12.5" text-anchor="start" fill="#111" >Стадия</text>
<text x="1118.2" y="807" font-size="12" text-anchor="start" fill="#111" >Лист</text>
<text x="1162" y="807" font-size="12" text-anchor="start" fill="#111" >Листов</text>
<text x="1088.5" y="828" font-size="12" text-anchor="middle" fill="#111" >ЭП</text>
<text x="1131.3" y="828" font-size="12" text-anchor="middle" fill="#111" >12</text>
<text x="1183.2" y="828" font-size="12" text-anchor="middle" fill="#111" >21</text>
<text x="960" y="863" font-size="10.5" text-anchor="middle" fill="#111" >Маркировочный план на отм. 0.000</text>
<text x="1141.9" y="863" font-size="12.5" text-anchor="middle" fill="#111" >ООО "Альянс"</text>
</svg></body></html>
